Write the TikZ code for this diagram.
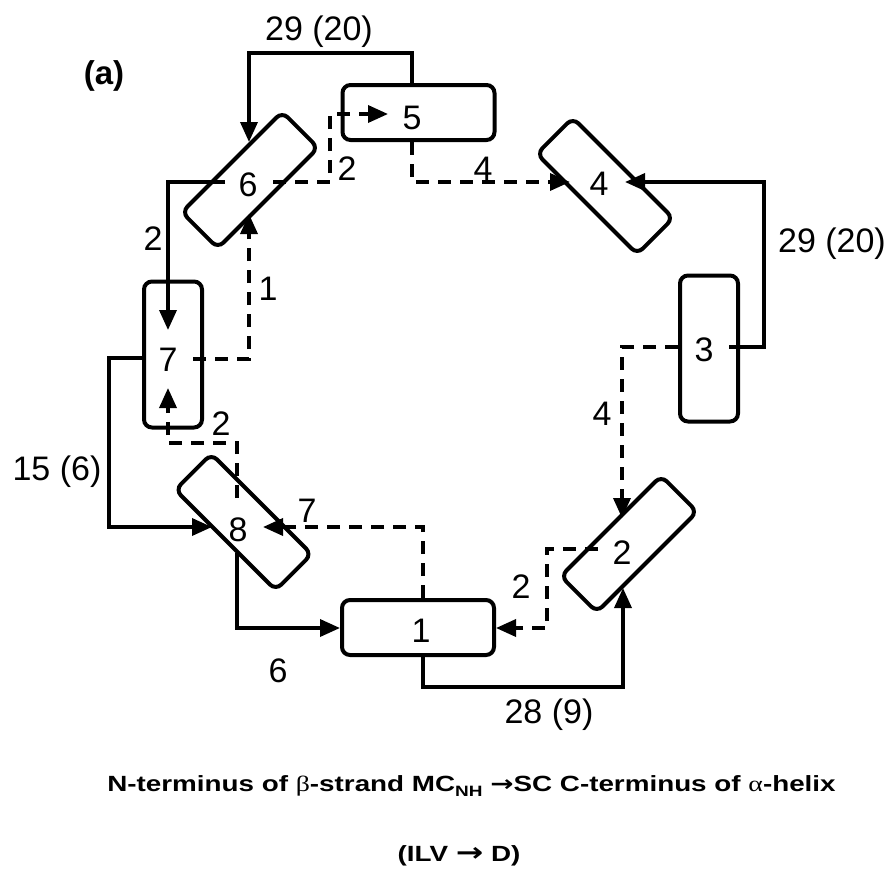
\documentclass[tikz,border=0pt]{standalone}
\usepackage{fontspec}
\setmainfont{Liberation Sans}
\newfontfamily\greekserif{Liberation Serif}
\newfontfamily\arrowfont{DejaVu Sans}
\usetikzlibrary{arrows.meta}
\begin{document}
\begin{tikzpicture}[x=1pt,y=1pt,
  box/.style={draw, line width=4pt, rounded corners=8pt, inner sep=0pt},
  hbox/.style={box, minimum width=152pt, minimum height=55pt},
  vbox/.style={box, minimum width=58pt, minimum height=146pt},
  dbox/.style={box, minimum width=142pt, minimum height=51pt},
  lbl/.style={font=\fontsize{34}{40}\selectfont, inner sep=0pt},
  elbl/.style={lbl, anchor=base},
  sol/.style={line width=3.5pt, -{Triangle[length=20pt,width=17pt]}},
  dsh/.style={sol, dash pattern=on 13pt off 9pt},
  ttl/.style={font=\bfseries\fontsize{22}{26}\selectfont, anchor=base, inner sep=0pt},
]
\useasboundingbox (0,0) rectangle (892,-868);

% boxes
\node[hbox] (b5) at (418.5,-112.5) {};
\node[dbox, rotate=45] (b6) at (250,-180) {};
\node[dbox, rotate=-45] (b4) at (605,-186) {};
\node[vbox] (b3) at (709,-348.5) {};
\node[vbox] (b7) at (173,-354.5) {};
\node[dbox, rotate=-45] (b8) at (243.5,-522) {};
\node[hbox] (b1) at (418,-627.5) {};
\node[dbox, rotate=45] (b2) at (629,-544) {};

% box labels
\node[lbl] (t5) at (412,-118) {5};
\node[lbl] (t6) at (248,-185) {6};
\node[lbl] (t4) at (599,-184) {4};
\node[lbl] (t3) at (704,-350) {3};
\node[lbl] (t7) at (168,-360) {7};
\node[lbl] (t8) at (238,-530) {8};
\node[lbl] (t1) at (421,-631) {1};
\node[lbl] (t2) at (622,-553) {2};

% connectors
\draw[sol] (b5.north -| t5) -- (412,-53) -- (249,-53) -- (249,-142);
\draw[dsh] (273,-182) -- (330,-182) -- (330,-114) -- (388,-114);
\draw[sol] (225,-182) -- (168,-182) -- (168,-330);
\draw[dsh] (193,-359) -- (249,-359) -- (249,-214);
\draw[sol] (b7.west |- 0,-358) -- (109,-358) -- (109,-527) -- (212,-527);
\draw[dsh] (237,-498) -- (237,-443) -- (168,-443) -- (168,-388);
\draw[dsh] (b1.north -| 423,0) -- (423,-527) -- (263,-527);
\draw[sol] (237,-553) -- (237,-628) -- (b1.west |- 0,-628);
\draw[sol] (b1.south -| 423,0) -- (423,-687) -- (623,-687) -- (623,-588);
\draw[dsh] (598,-549) -- (547,-549) -- (547,-628) -- (496,-628);
\draw[dsh] (b3.west |- 0,-347) -- (622,-347) -- (622,-518);
\draw[sol] (729,-347) -- (764,-347) -- (764,-182) -- (625,-182);
\draw[dsh] (b5.south -| t5) -- (412,-182) -- (570,-182);

% edge labels
\node[elbl] (e1) at (319,-40) {29 (20)};
\node[elbl] (e2) at (347,-180) {2};
\node[elbl] (e3) at (483,-180) {4};
\node[elbl] (e4) at (153,-250) {2};
\node[elbl] (e5) at (268,-300) {1};
\node[elbl] (e6) at (832,-252) {29 (20)};
\node[elbl] (e7) at (602,-425) {4};
\node[elbl] (e8) at (57,-480) {15 (6)};
\node[elbl] (e9) at (221,-435) {2};
\node[elbl] (e10) at (307,-522) {7};
\node[elbl] (e11) at (278,-682) {6};
\node[elbl] (e12) at (521,-598) {2};
\node[elbl] (e13) at (549,-723) {28 (9)};

\node[font=\bfseries\fontsize{33}{38}\selectfont, anchor=base, inner sep=0pt] (a) at (104,-84) {(a)};

\node[ttl] (title) at (471.5,-791)
  {\scalebox{1.264}[1]{N-terminus of {\greekserif\mdseries β}-strand MC\raisebox{-5pt}{\fontsize{15}{15}\selectfont NH} {\arrowfont →}SC C-terminus of {\greekserif\mdseries α}-helix}};
\node[ttl] (sub) at (459,-861)
  {\scalebox{1.264}[1]{(ILV {\arrowfont\fontsize{26}{26}\selectfont →} D)}};
\end{tikzpicture}
\end{document}
